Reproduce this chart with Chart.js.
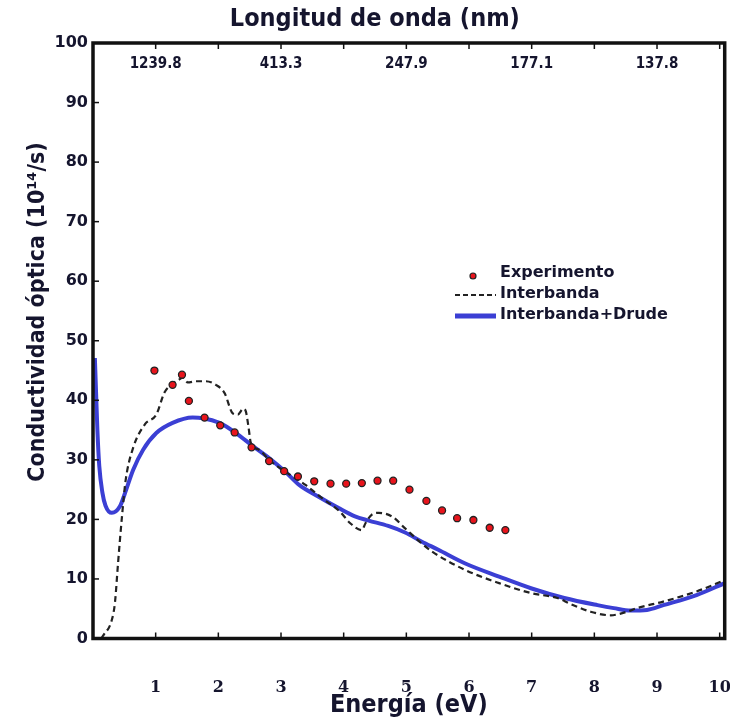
<!DOCTYPE html>
<html>
<head>
<meta charset="utf-8">
<script src="https://cdn.jsdelivr.net/npm/chart.js@4.4.1/dist/chart.umd.min.js"></script>
<style>
  html, body { margin: 0; padding: 0; background: #fff; }
</style>
</head>
<body>
<canvas id="chart" width="730" height="720"></canvas>
<script>
// Energy ticks on the bottom axis and the matching wavelengths on top
const energyTickValues = [1, 2, 3, 4, 5, 6, 7, 8, 9, 10];
const wavelengthEnergies = [1, 3, 5, 7, 9];
const wavelengthLabels = ['1239.8', '413.3', '247.9', '177.1', '137.8'];

// Experimento (dots)
const expEnergy = [0.98, 1.27, 1.42, 1.53, 1.78, 2.03, 2.26, 2.53, 2.81, 3.05, 3.27, 3.53,
    3.79, 4.04, 4.29, 4.54, 4.79, 5.05, 5.32, 5.57, 5.81, 6.07, 6.33, 6.58];
const expValue = [45.0, 42.6, 44.3, 39.9, 37.1, 35.8, 34.6, 32.1, 29.8, 28.1, 27.2, 26.4,
    26.0, 26.0, 26.1, 26.5, 26.5, 25.0, 23.1, 21.5, 20.2, 19.9, 18.6, 18.2];

// Interbanda (dashed)
const interEnergy = [0.13, 0.17, 0.3, 0.35, 0.4, 0.46, 0.52, 0.64, 0.83, 1.01, 1.14, 1.25,
    1.36, 1.44, 1.51, 1.65, 1.8, 1.96, 2.1, 2.23, 2.31, 2.4, 2.44, 2.48, 2.52, 2.65, 2.81,
    3.07, 3.39, 3.65, 3.94, 4.1, 4.29, 4.35, 4.45, 4.56, 4.77, 4.98, 5.24, 5.41, 5.94, 6.48,
    7.0, 7.41, 7.62, 7.94, 8.26, 8.52, 8.68, 9.1, 9.63, 10.08];
const interValue = [0, 0.6, 3.1, 6, 12.7, 20.2, 26.5, 32.0, 36.0, 37.6, 41.3, 42.6,
    43.4, 43.8, 43.0, 43.2, 43.2, 42.6, 41.2, 37.8, 37.6, 38.6, 38.1, 35.6, 32.8, 31.7, 30.0,
    28.0, 25.8, 23.6, 21.3, 19.4, 18.2, 19.4, 20.8, 21.1, 20.5, 18.5, 16.0, 14.6, 11.5, 9.3,
    7.6, 6.8, 5.8, 4.5, 3.9, 4.5, 5.1, 6.2, 7.9, 9.8];

// Interbanda+Drude (blue)
const drudeEnergy = [0.03, 0.05, 0.07, 0.1, 0.15, 0.2, 0.3, 0.43, 0.53, 0.64, 0.8, 1.01,
    1.27, 1.59, 1.75, 2.02, 2.28, 2.54, 2.81, 3.07, 3.29, 3.6, 3.92, 4.18, 4.4, 4.71, 4.98,
    5.24, 5.51, 5.94, 6.48, 7.0, 7.52, 8.05, 8.31, 8.58, 8.84, 9.1, 9.63, 10.08];
const drudeValue = [47.1, 41, 35, 29, 24.5, 22.3, 21.1, 22.2, 25.0, 28.3, 31.7, 34.5,
    36.2, 37.1, 37.0, 36.2, 34.5, 32.4, 30.3, 28.0, 25.8, 23.8, 21.9, 20.5, 19.8, 18.9, 17.8,
    16.3, 14.9, 12.6, 10.4, 8.4, 6.8, 5.6, 5.1, 4.7, 4.8, 5.6, 7.3, 9.3];

const textColor = '#15152e';
const blue = '#3b3fd4';
const red = '#e8141c';
const titleFont = '"Liberation Sans Narrow", "DejaVu Sans Condensed", sans-serif';

function toPoints(xs, ys) {
    return xs.map((x, i) => ({ x: x, y: ys[i] }));
}

// frame, inward ticks, wavelength labels, top title and legend
const framePlugin = {
    id: 'frame',
    afterDraw(chart) {
        const { ctx, chartArea: area } = chart;
        const xScale = chart.scales.x;
        const yScale = chart.scales.y;
        ctx.save();

        ctx.strokeStyle = '#111';
        ctx.lineWidth = 1.5;
        energyTickValues.forEach((v) => {
            const px = xScale.getPixelForValue(v);
            ctx.beginPath();
            ctx.moveTo(px, area.bottom);
            ctx.lineTo(px, area.bottom - 6);
            ctx.moveTo(px, area.top);
            ctx.lineTo(px, area.top + 6);
            ctx.stroke();
        });
        yScale.ticks.forEach((t) => {
            const py = yScale.getPixelForValue(t.value);
            ctx.beginPath();
            ctx.moveTo(area.left, py);
            ctx.lineTo(area.left + 6, py);
            ctx.stroke();
        });

        ctx.lineWidth = 3.5;
        ctx.strokeRect(area.left, area.top, area.right - area.left, area.bottom - area.top);

        ctx.fillStyle = textColor;
        ctx.textAlign = 'center';
        ctx.textBaseline = 'middle';
        ctx.font = 'bold 15px "DejaVu Sans Condensed", sans-serif';
        wavelengthEnergies.forEach((v, i) => {
            ctx.fillText(wavelengthLabels[i], xScale.getPixelForValue(v), area.top + 21);
        });

        ctx.font = 'bold 25px ' + titleFont;
        ctx.fillText('Longitud de onda (nm)', (area.left + area.right) / 2 - 34, 19);

        // legend
        ctx.textAlign = 'left';
        ctx.font = 'bold 16px "DejaVu Sans", sans-serif';
        ctx.fillText('Experimento', 500, 273);
        ctx.fillText('Interbanda', 500, 294);
        ctx.fillText('Interbanda+Drude', 500, 315);

        ctx.beginPath();
        ctx.arc(473, 276, 3, 0, Math.PI * 2);
        ctx.fillStyle = red;
        ctx.fill();
        ctx.lineWidth = 1.2;
        ctx.strokeStyle = '#222';
        ctx.stroke();

        ctx.beginPath();
        ctx.setLineDash([5, 3]);
        ctx.lineWidth = 2;
        ctx.strokeStyle = '#222';
        ctx.moveTo(455, 295);
        ctx.lineTo(496, 295);
        ctx.stroke();

        ctx.beginPath();
        ctx.setLineDash([]);
        ctx.lineWidth = 5;
        ctx.strokeStyle = blue;
        ctx.moveTo(455, 316);
        ctx.lineTo(496, 316);
        ctx.stroke();

        ctx.restore();
    },
};

new Chart(document.getElementById('chart'), {
    type: 'line',
    data: {
        datasets: [
            {
                label: 'Experimento',
                data: toPoints(expEnergy, expValue),
                showLine: false,
                pointRadius: 3.5,
                pointBackgroundColor: red,
                pointBorderColor: '#222',
                pointBorderWidth: 1.3,
            },
            {
                label: 'Interbanda',
                data: toPoints(interEnergy, interValue),
                borderColor: '#222',
                borderWidth: 2.2,
                borderDash: [6, 4],
                pointRadius: 0,
                cubicInterpolationMode: 'monotone',
            },
            {
                label: 'Interbanda+Drude',
                data: toPoints(drudeEnergy, drudeValue),
                borderColor: blue,
                borderWidth: 4,
                pointRadius: 0,
                cubicInterpolationMode: 'monotone',
            },
        ],
    },
    options: {
        responsive: false,
        animation: false,
        layout: { padding: { top: 43, right: 0, left: 0, bottom: 0 } },
        plugins: {
            legend: { display: false },
            tooltip: { enabled: false },
        },
        scales: {
            x: {
                type: 'linear',
                min: 0,
                max: 10.08,
                afterBuildTicks: (scale) => {
                    scale.ticks = energyTickValues.map((v) => ({ value: v }));
                },
                afterFit: (scale) => {
                    scale.height = 81.5;
                    scale.paddingLeft = 0;
                    scale.paddingRight = 0;
                },
                grid: {
                    display: true,
                    drawOnChartArea: false,
                    drawTicks: true,
                    tickLength: 38,
                    tickColor: 'rgba(0,0,0,0)',
                },
                border: { display: false },
                ticks: {
                    padding: 2,
                    autoSkip: false,
                    maxRotation: 0,
                    color: textColor,
                    font: { family: 'DejaVu Serif', weight: 'bold', size: 16 },
                },
                title: {
                    display: true,
                    text: 'Energía (eV)',
                    color: textColor,
                    padding: { bottom: 0 },
                    font: { family: titleFont, weight: 'bold', size: 25 },
                },
            },
            y: {
                min: 0,
                max: 100,
                afterFit: (scale) => {
                    scale.width = 93;
                },
                grid: { display: false, drawTicks: false },
                border: { display: false },
                ticks: {
                    stepSize: 10,
                    padding: 5,
                    color: textColor,
                    font: { family: 'DejaVu Sans', weight: 'bold', size: 16 },
                },
                title: {
                    display: true,
                    text: '        Conductividad óptica (10¹⁴/s)',
                    color: textColor,
                    padding: { top: 24 },
                    font: { family: titleFont, weight: 'bold', size: 23 },
                },
            },
        },
    },
    plugins: [framePlugin],
});
</script>
</body>
</html>
